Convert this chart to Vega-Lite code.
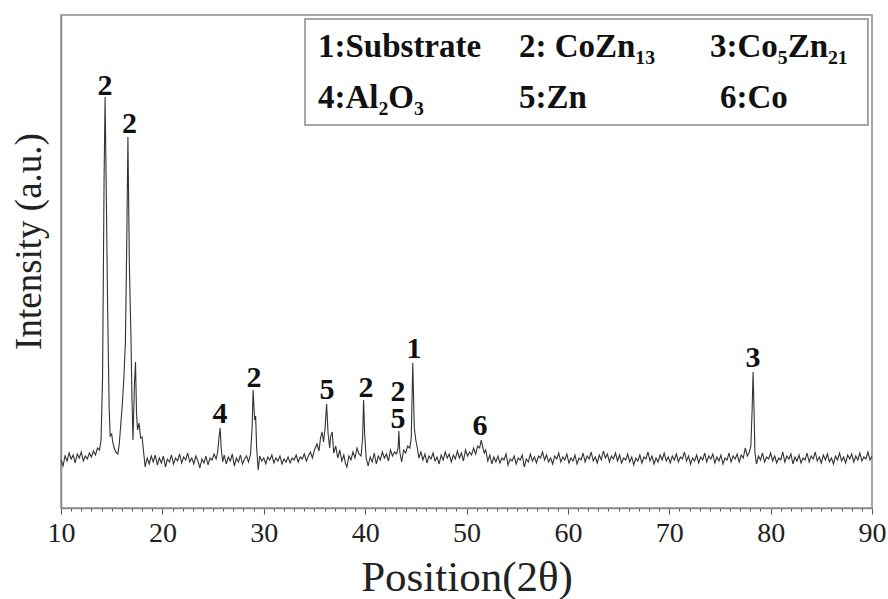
{
  "$schema": "https://vega.github.io/schema/vega-lite/v6.json",
  "width": 811,
  "height": 493,
  "autosize": {"type": "none"},
  "padding": {"left": 61, "top": 15, "right": 16, "bottom": 91},
  "background": "white",
  "config": {
    "view": {"stroke": "#8a8a8a", "strokeWidth": 1.5},
    "font": "Liberation Serif"
  },
  "resolve": {"axis": {"x": "independent"}},
  "datasets": {
    "trace": [
      {"t":10.0,"i":48},{"t":10.2,"i":42},{"t":10.4,"i":52},{"t":10.6,"i":47},{"t":10.8,"i":55},{"t":11.0,"i":49},{"t":11.2,"i":53},{"t":11.4,"i":45},{"t":11.6,"i":54},{"t":11.8,"i":50},
      {"t":12.0,"i":56},{"t":12.2,"i":47},{"t":12.4,"i":52},{"t":12.6,"i":49},{"t":12.8,"i":55},{"t":13.0,"i":51},{"t":13.2,"i":57},{"t":13.4,"i":53},{"t":13.6,"i":60},{"t":13.8,"i":58},
      {"t":13.95,"i":68},{"t":14.1,"i":130},{"t":14.25,"i":330},{"t":14.35,"i":411},{"t":14.45,"i":330},{"t":14.6,"i":200},{"t":14.75,"i":100},{"t":14.85,"i":72},{"t":15.0,"i":74},{"t":15.1,"i":66},
      {"t":15.25,"i":60},{"t":15.4,"i":56},{"t":15.6,"i":54},{"t":15.75,"i":64},{"t":15.9,"i":84},{"t":16.05,"i":104},{"t":16.2,"i":130},{"t":16.35,"i":165},{"t":16.48,"i":260},{"t":16.6,"i":371},{"t":16.75,"i":240},
      {"t":16.9,"i":171},{"t":17.0,"i":110},{"t":17.1,"i":68},{"t":17.25,"i":125},{"t":17.35,"i":146},{"t":17.45,"i":95},{"t":17.55,"i":78},{"t":17.7,"i":85},{"t":17.85,"i":70},{"t":18.0,"i":71},
      {"t":18.15,"i":56},{"t":18.3,"i":41},{"t":18.5,"i":50},{"t":18.7,"i":44},{"t":18.9,"i":52},{"t":19.1,"i":46},{"t":19.3,"i":53},{"t":19.5,"i":43},{"t":19.7,"i":50},{"t":19.9,"i":45},
      {"t":20.1,"i":52},{"t":20.3,"i":41},{"t":20.5,"i":49},{"t":20.7,"i":46},{"t":20.9,"i":53},{"t":21.1,"i":44},{"t":21.3,"i":50},{"t":21.5,"i":47},{"t":21.7,"i":54},{"t":21.9,"i":45},
      {"t":22.1,"i":51},{"t":22.3,"i":48},{"t":22.5,"i":55},{"t":22.7,"i":46},{"t":22.9,"i":50},{"t":23.1,"i":44},{"t":23.3,"i":52},{"t":23.5,"i":47},{"t":23.7,"i":40},{"t":23.9,"i":49},
      {"t":24.1,"i":45},{"t":24.3,"i":52},{"t":24.5,"i":43},{"t":24.7,"i":50},{"t":24.9,"i":48},{"t":25.1,"i":54},{"t":25.3,"i":49},{"t":25.45,"i":56},{"t":25.6,"i":72},{"t":25.7,"i":80},
      {"t":25.8,"i":60},{"t":25.95,"i":46},{"t":26.1,"i":53},{"t":26.3,"i":44},{"t":26.5,"i":51},{"t":26.7,"i":47},{"t":26.9,"i":54},{"t":27.1,"i":42},{"t":27.3,"i":50},{"t":27.5,"i":46},
      {"t":27.7,"i":53},{"t":27.9,"i":44},{"t":28.1,"i":49},{"t":28.3,"i":52},{"t":28.5,"i":46},{"t":28.7,"i":54},{"t":28.85,"i":80},{"t":28.95,"i":118},{"t":29.1,"i":88},{"t":29.2,"i":92},
      {"t":29.3,"i":60},{"t":29.45,"i":38},{"t":29.6,"i":52},{"t":29.8,"i":47},{"t":30.0,"i":50},{"t":30.2,"i":44},{"t":30.4,"i":51},{"t":30.6,"i":48},{"t":30.8,"i":53},{"t":31.0,"i":45},
      {"t":31.2,"i":50},{"t":31.4,"i":47},{"t":31.6,"i":52},{"t":31.8,"i":44},{"t":32.0,"i":49},{"t":32.2,"i":46},{"t":32.4,"i":51},{"t":32.6,"i":45},{"t":32.8,"i":50},{"t":33.0,"i":48},
      {"t":33.2,"i":53},{"t":33.4,"i":46},{"t":33.6,"i":51},{"t":33.8,"i":49},{"t":34.0,"i":54},{"t":34.2,"i":47},{"t":34.4,"i":52},{"t":34.6,"i":56},{"t":34.8,"i":50},{"t":35.0,"i":58},
      {"t":35.25,"i":64},{"t":35.45,"i":57},{"t":35.6,"i":70},{"t":35.75,"i":76},{"t":35.9,"i":66},{"t":36.05,"i":80},{"t":36.2,"i":104},{"t":36.35,"i":74},{"t":36.5,"i":60},{"t":36.6,"i":72},
      {"t":36.75,"i":76},{"t":36.9,"i":55},{"t":37.1,"i":62},{"t":37.3,"i":50},{"t":37.5,"i":58},{"t":37.7,"i":47},{"t":37.9,"i":53},{"t":38.05,"i":45},{"t":38.2,"i":41},{"t":38.4,"i":52},
      {"t":38.6,"i":48},{"t":38.8,"i":56},{"t":39.0,"i":50},{"t":39.2,"i":60},{"t":39.4,"i":54},{"t":39.6,"i":52},{"t":39.75,"i":70},{"t":39.85,"i":108},{"t":39.95,"i":75},{"t":40.1,"i":50},
      {"t":40.3,"i":42},{"t":40.5,"i":51},{"t":40.7,"i":46},{"t":40.9,"i":55},{"t":41.1,"i":44},{"t":41.3,"i":52},{"t":41.5,"i":48},{"t":41.7,"i":56},{"t":41.9,"i":50},{"t":42.1,"i":54},
      {"t":42.3,"i":47},{"t":42.5,"i":58},{"t":42.7,"i":52},{"t":42.9,"i":56},{"t":43.1,"i":54},{"t":43.25,"i":60},{"t":43.33,"i":77},{"t":43.42,"i":56},{"t":43.6,"i":46},{"t":43.8,"i":58},
      {"t":44.0,"i":55},{"t":44.2,"i":62},{"t":44.4,"i":60},{"t":44.55,"i":70},{"t":44.7,"i":145},{"t":44.85,"i":80},{"t":45.0,"i":68},{"t":45.15,"i":60},{"t":45.3,"i":50},{"t":45.5,"i":56},
      {"t":45.7,"i":48},{"t":45.9,"i":54},{"t":46.1,"i":45},{"t":46.3,"i":52},{"t":46.5,"i":49},{"t":46.7,"i":55},{"t":46.9,"i":47},{"t":47.1,"i":51},{"t":47.3,"i":44},{"t":47.5,"i":53},
      {"t":47.7,"i":48},{"t":47.9,"i":56},{"t":48.1,"i":50},{"t":48.3,"i":54},{"t":48.5,"i":46},{"t":48.7,"i":53},{"t":48.9,"i":49},{"t":49.1,"i":57},{"t":49.3,"i":50},{"t":49.5,"i":55},
      {"t":49.7,"i":47},{"t":49.9,"i":58},{"t":50.1,"i":52},{"t":50.3,"i":56},{"t":50.5,"i":53},{"t":50.7,"i":60},{"t":50.9,"i":54},{"t":51.1,"i":62},{"t":51.3,"i":60},{"t":51.45,"i":68},
      {"t":51.6,"i":61},{"t":51.75,"i":55},{"t":51.9,"i":58},{"t":52.1,"i":47},{"t":52.3,"i":53},{"t":52.5,"i":44},{"t":52.7,"i":51},{"t":52.9,"i":46},{"t":53.1,"i":52},{"t":53.3,"i":45},
      {"t":53.5,"i":50},{"t":53.7,"i":48},{"t":53.9,"i":54},{"t":54.1,"i":43},{"t":54.3,"i":49},{"t":54.5,"i":47},{"t":54.7,"i":52},{"t":54.9,"i":44},{"t":55.1,"i":50},{"t":55.3,"i":48},
      {"t":55.5,"i":53},{"t":55.7,"i":41},{"t":55.9,"i":49},{"t":56.1,"i":46},{"t":56.3,"i":54},{"t":56.5,"i":47},{"t":56.7,"i":51},{"t":56.9,"i":45},{"t":57.1,"i":52},{"t":57.3,"i":50},
      {"t":57.5,"i":56},{"t":57.7,"i":48},{"t":57.9,"i":53},{"t":58.1,"i":46},{"t":58.3,"i":50},{"t":58.5,"i":44},{"t":58.7,"i":52},{"t":58.9,"i":49},{"t":59.1,"i":55},{"t":59.3,"i":46},
      {"t":59.5,"i":51},{"t":59.7,"i":48},{"t":59.9,"i":54},{"t":60.1,"i":45},{"t":60.3,"i":50},{"t":60.5,"i":47},{"t":60.7,"i":53},{"t":60.9,"i":44},{"t":61.1,"i":50},{"t":61.3,"i":48},
      {"t":61.5,"i":55},{"t":61.7,"i":46},{"t":61.9,"i":52},{"t":62.1,"i":49},{"t":62.3,"i":56},{"t":62.5,"i":47},{"t":62.7,"i":51},{"t":62.9,"i":45},{"t":63.1,"i":53},{"t":63.3,"i":48},
      {"t":63.5,"i":57},{"t":63.7,"i":50},{"t":63.9,"i":54},{"t":64.1,"i":46},{"t":64.3,"i":52},{"t":64.5,"i":49},{"t":64.7,"i":55},{"t":64.9,"i":47},{"t":65.1,"i":53},{"t":65.3,"i":45},
      {"t":65.5,"i":50},{"t":65.7,"i":48},{"t":65.9,"i":54},{"t":66.1,"i":46},{"t":66.3,"i":51},{"t":66.5,"i":43},{"t":66.7,"i":50},{"t":66.9,"i":47},{"t":67.1,"i":53},{"t":67.3,"i":45},
      {"t":67.5,"i":51},{"t":67.7,"i":49},{"t":67.9,"i":56},{"t":68.1,"i":47},{"t":68.3,"i":52},{"t":68.5,"i":44},{"t":68.7,"i":50},{"t":68.9,"i":46},{"t":69.1,"i":53},{"t":69.3,"i":48},
      {"t":69.5,"i":55},{"t":69.7,"i":47},{"t":69.9,"i":51},{"t":70.1,"i":45},{"t":70.3,"i":52},{"t":70.5,"i":48},{"t":70.7,"i":54},{"t":70.9,"i":46},{"t":71.1,"i":51},{"t":71.3,"i":49},
      {"t":71.5,"i":56},{"t":71.7,"i":47},{"t":71.9,"i":52},{"t":72.1,"i":44},{"t":72.3,"i":50},{"t":72.5,"i":47},{"t":72.7,"i":53},{"t":72.9,"i":45},{"t":73.1,"i":51},{"t":73.3,"i":48},
      {"t":73.5,"i":55},{"t":73.7,"i":46},{"t":73.9,"i":52},{"t":74.1,"i":49},{"t":74.3,"i":54},{"t":74.5,"i":45},{"t":74.7,"i":51},{"t":74.9,"i":47},{"t":75.1,"i":53},{"t":75.3,"i":44},
      {"t":75.5,"i":50},{"t":75.7,"i":48},{"t":75.9,"i":55},{"t":76.1,"i":46},{"t":76.3,"i":52},{"t":76.5,"i":49},{"t":76.7,"i":54},{"t":76.9,"i":46},{"t":77.1,"i":53},{"t":77.3,"i":50},
      {"t":77.5,"i":60},{"t":77.7,"i":52},{"t":77.9,"i":56},{"t":78.05,"i":62},{"t":78.18,"i":100},{"t":78.27,"i":136},{"t":78.36,"i":100},{"t":78.45,"i":56},{"t":78.6,"i":44},{"t":78.8,"i":52},
      {"t":79.0,"i":48},{"t":79.2,"i":55},{"t":79.4,"i":46},{"t":79.6,"i":51},{"t":79.8,"i":49},{"t":80.0,"i":55},{"t":80.2,"i":47},{"t":80.4,"i":52},{"t":80.6,"i":45},{"t":80.8,"i":50},
      {"t":81.0,"i":48},{"t":81.2,"i":56},{"t":81.4,"i":46},{"t":81.6,"i":52},{"t":81.8,"i":49},{"t":82.0,"i":54},{"t":82.2,"i":44},{"t":82.4,"i":51},{"t":82.6,"i":47},{"t":82.8,"i":53},
      {"t":83.0,"i":45},{"t":83.2,"i":50},{"t":83.4,"i":48},{"t":83.6,"i":55},{"t":83.8,"i":46},{"t":84.0,"i":52},{"t":84.2,"i":49},{"t":84.4,"i":56},{"t":84.6,"i":47},{"t":84.8,"i":51},
      {"t":85.0,"i":45},{"t":85.2,"i":53},{"t":85.4,"i":48},{"t":85.6,"i":54},{"t":85.8,"i":46},{"t":86.0,"i":50},{"t":86.2,"i":44},{"t":86.4,"i":52},{"t":86.6,"i":48},{"t":86.8,"i":55},
      {"t":87.0,"i":47},{"t":87.2,"i":51},{"t":87.4,"i":45},{"t":87.6,"i":53},{"t":87.8,"i":49},{"t":88.0,"i":54},{"t":88.2,"i":46},{"t":88.4,"i":52},{"t":88.6,"i":48},{"t":88.8,"i":55},
      {"t":89.0,"i":47},{"t":89.2,"i":51},{"t":89.4,"i":49},{"t":89.6,"i":56},{"t":89.8,"i":48},{"t":90.0,"i":52}
    ],
    "peaks": [
      {"t":14.34,"i":413,"label":"2"},
      {"t":16.75,"i":375,"label":"2"},
      {"t":25.68,"i":85,"label":"4"},
      {"t":29.04,"i":121,"label":"2"},
      {"t":36.24,"i":109,"label":"5"},
      {"t":40.09,"i":111,"label":"2"},
      {"t":43.24,"i":107,"label":"2"},
      {"t":43.24,"i":80,"label":"5"},
      {"t":44.82,"i":150,"label":"1"},
      {"t":51.33,"i":73,"label":"6"},
      {"t":78.26,"i":141,"label":"3"}
    ],
    "key": [
      {"t":35.35,"i":451,"label":"1:Substrate"},
      {"t":55.18,"i":451,"label":"2: CoZn₁₃"},
      {"t":74.02,"i":451,"label":"3:Co₅Zn₂₁"},
      {"t":35.35,"i":400,"label":"4:Al₂O₃"},
      {"t":55.18,"i":400,"label":"5:Zn"},
      {"t":75.0,"i":400,"label":"6:Co"}
    ],
    "box": [
      {"t":34.07,"t2":89.6,"i":383,"i2":489}
    ]
  },
  "layer": [
    {
      "data": {"name": "box"},
      "mark": {"type": "rect", "fill": "white", "stroke": "#8a8a8a", "strokeWidth": 1.5},
      "encoding": {
        "x": {
          "field": "t", "type": "quantitative",
          "scale": {"domain": [10, 90], "nice": false, "zero": false},
          "axis": {
            "orient": "bottom",
            "values": [11,12,13,14,15,16,17,18,19,21,22,23,24,25,26,27,28,29,31,32,33,34,35,36,37,38,39,41,42,43,44,45,46,47,48,49,51,52,53,54,55,56,57,58,59,61,62,63,64,65,66,67,68,69,71,72,73,74,75,76,77,78,79,81,82,83,84,85,86,87,88,89],
            "labels": false,
            "domain": false,
            "grid": false,
            "tickSize": 3,
            "tickColor": "#555",
            "tickWidth": 1,
            "title": null
          }
        },
        "x2": {"field": "t2"},
        "y": {"field": "i", "type": "quantitative"},
        "y2": {"field": "i2"}
      }
    },
    {
      "data": {"name": "trace"},
      "mark": {"type": "line", "color": "#333333", "strokeWidth": 1.1, "interpolate": "linear"},
      "encoding": {
        "x": {
          "field": "t", "type": "quantitative",
          "scale": {"domain": [10, 90], "nice": false, "zero": false},
          "axis": {
            "orient": "bottom",
            "values": [10,20,30,40,50,60,70,80,90],
            "tickSize": 6,
            "tickColor": "#555",
            "tickWidth": 1,
            "domainColor": "#8a8a8a",
            "domainWidth": 1.5,
            "grid": false,
            "labelFont": "Liberation Serif",
            "labelFontSize": 28,
            "labelColor": "#222",
            "labelPadding": 5,
            "labelFlush": false,
            "labelOverlap": false,
            "title": "Position(2θ)",
            "titleFont": "Liberation Serif",
            "titleFontSize": 43,
            "titleFontWeight": "normal",
            "titleColor": "#222",
            "titleBaseline": "alphabetic",
            "titleY": 82,
            "titleX": 405.5
          }
        },
        "y": {
          "field": "i", "type": "quantitative",
          "scale": {"domain": [0, 493], "nice": false, "zero": true},
          "axis": {
            "ticks": false,
            "labels": false,
            "grid": false,
            "domainColor": "#8a8a8a",
            "domainWidth": 1.5,
            "title": "Intensity (a.u.)",
            "titleFont": "Liberation Serif",
            "titleFontSize": 37,
            "titleFontWeight": "normal",
            "titleColor": "#222",
            "titleBaseline": "alphabetic",
            "titleAngle": -90,
            "titleX": -21,
            "titleY": 226,
            "titleAlign": "center"
          }
        }
      }
    },
    {
      "data": {"name": "peaks"},
      "mark": {"type": "text", "font": "Liberation Serif", "fontWeight": "bold", "fontSize": 30, "color": "#111", "align": "center", "baseline": "alphabetic"},
      "encoding": {
        "x": {"field": "t", "type": "quantitative", "axis": null},
        "y": {"field": "i", "type": "quantitative"},
        "text": {"field": "label"}
      }
    },
    {
      "data": {"name": "key"},
      "mark": {"type": "text", "font": "Liberation Serif", "fontWeight": "bold", "fontSize": 33, "color": "#111", "align": "left", "baseline": "alphabetic"},
      "encoding": {
        "x": {"field": "t", "type": "quantitative", "axis": null},
        "y": {"field": "i", "type": "quantitative"},
        "text": {"field": "label"}
      }
    }
  ]
}
